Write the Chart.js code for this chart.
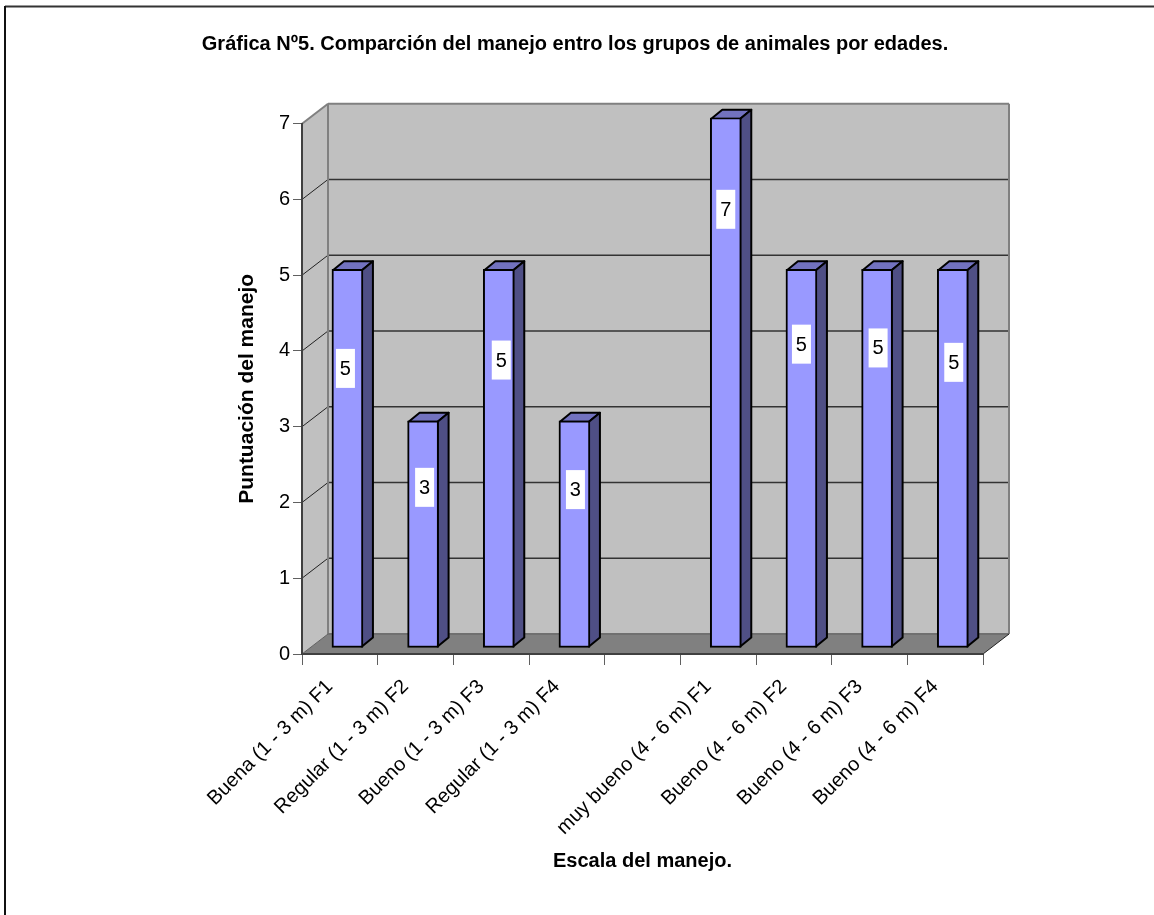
<!DOCTYPE html>
<html>
<head>
<meta charset="utf-8">
<title>Gráfica Nº5</title>
<script src="https://cdn.jsdelivr.net/npm/chart.js@4/dist/chart.umd.min.js"></script>
<style>
    html, body { margin: 0; padding: 0; background: #fff; overflow: hidden; }
    #wrap { position: relative; width: 1154px; height: 915px; }
</style>
</head>
<body>
<div id="wrap"><canvas id="myChart" width="1154" height="915"></canvas></div>
<script>
// Chart data
// =======================================================
var categories = [
    "Buena (1 - 3 m) F1", "Regular (1 - 3 m) F2", "Bueno (1 - 3 m) F3", "Regular (1 - 3 m) F4",
    "",
    "muy bueno (4 - 6 m) F1", "Bueno (4 - 6 m) F2", "Bueno (4 - 6 m) F3", "Bueno (4 - 6 m) F4"
];
var puntuacion = [5, 3, 5, 3, null, 7, 5, 5, 5];
var yTicks = [0, 1, 2, 3, 4, 5, 6, 7];

var chartTitle = "Gráfica Nº5. Comparción del manejo entro los grupos de animales por edades.";
var xTitle = "Escala del manejo.";
var yTitle = "Puntuación del manejo";

// Hand placed value labels: height on the y axis, and sideways nudge in px
var labelLevels = [3.77, 2.20, 3.88, 2.17, null, 5.87, 4.09, 4.04, 3.85];
var labelNudge = [-2, 1.5, 2.5, 1, null, 0, 0, 1, 1];

// 3D look of the old spreadsheet chart
// =======================================================
var wallDepth = { x: 26, y: -20 };
var barShift = { x: 7.6, y: -6 };
var barDepth = { x: 11, y: -9 };
var fontName = "'Liberation Sans', Arial, sans-serif";

function polygon(ctx, pts, fill, stroke, lineWidth) {
    ctx.beginPath();
    ctx.moveTo(pts[0][0], pts[0][1]);
    for (var i = 1; i < pts.length; i++) {
        ctx.lineTo(pts[i][0], pts[i][1]);
    }
    ctx.closePath();
    if (fill) {
        ctx.fillStyle = fill;
        ctx.fill();
    }
    if (stroke) {
        ctx.strokeStyle = stroke;
        ctx.lineWidth = lineWidth;
        ctx.stroke();
    }
}

function line(ctx, x1, y1, x2, y2, color, width) {
    ctx.beginPath();
    ctx.moveTo(x1, y1);
    ctx.lineTo(x2, y2);
    ctx.strokeStyle = color;
    ctx.lineWidth = width;
    ctx.stroke();
}

var walls3d = {
    id: "walls3d",
    // frame, side wall, back wall, floor and grid lines go under everything
    beforeDraw: function (chart) {
        var ctx = chart.ctx;
        var a = chart.chartArea;
        var dx = wallDepth.x;
        var dy = wallDepth.y;
        var yScale = chart.scales.y;

        ctx.save();
        line(ctx, 5, 6.5, 1154, 6.5, "#333333", 2);
        line(ctx, 5, 6, 5, 915, "#111111", 2);

        polygon(ctx, [[a.left + dx, a.top + dy], [a.right + dx, a.top + dy], [a.right + dx, a.bottom + dy], [a.left + dx, a.bottom + dy]], "#c0c0c0");
        polygon(ctx, [[a.left, a.top], [a.left + dx, a.top + dy], [a.left + dx, a.bottom + dy], [a.left, a.bottom]], "#c0c0c0");
        polygon(ctx, [[a.left, a.bottom], [a.left + dx, a.bottom + dy], [a.right + dx, a.bottom + dy], [a.right, a.bottom]], "#808080");

        yScale.ticks.forEach(function (t) {
            if (t.value === 0 || t.value === 7) {
                return;
            }
            var py = yScale.getPixelForValue(t.value);
            line(ctx, a.left, py, a.left + dx, py + dy, "#222222", 1);
            line(ctx, a.left + dx, py + dy, a.right + dx, py + dy, "#333333", 1.5);
        });

        // wall edges
        ctx.lineJoin = "miter";
        line(ctx, a.left, a.top, a.left + dx, a.top + dy, "#808080", 2);
        line(ctx, a.left + dx, a.top + dy, a.right + dx, a.top + dy, "#808080", 2);
        line(ctx, a.left + dx, a.top + dy, a.left + dx, a.bottom + dy, "#808080", 2);
        line(ctx, a.right + dx, a.top + dy, a.right + dx, a.bottom + dy, "#808080", 2);
        line(ctx, a.left + dx, a.bottom + dy, a.right + dx, a.bottom + dy, "#707070", 2);
        line(ctx, a.left, a.bottom, a.left + dx, a.bottom + dy, "#606060", 1);
        line(ctx, a.right, a.bottom, a.right + dx, a.bottom + dy, "#222222", 1);
        ctx.restore();
    },
    // top and side faces of each bar, then the front is pushed into the depth
    beforeDatasetDraw: function (chart, args) {
        var ctx = chart.ctx;
        ctx.save();
        ctx.translate(barShift.x, barShift.y);
        args.meta.data.forEach(function (bar, i) {
            if (puntuacion[i] === null) {
                return;
            }
            var p = bar.getProps(["x", "y", "base", "width"], true);
            var half = p.width / 2 - 1;
            var l = p.x - half;
            var r = p.x + half;
            var t = p.y + 1;
            var b = p.base - 1;
            ctx.lineJoin = "round";
            polygon(ctx, [[l, t], [l + barDepth.x, t + barDepth.y], [r + barDepth.x, t + barDepth.y], [r, t]], "#7272bf", "#000", 2);
            polygon(ctx, [[r, t], [r + barDepth.x, t + barDepth.y], [r + barDepth.x, b + barDepth.y], [r, b]], "#4f4f85", "#000", 2);
        });
        // restored in afterDatasetDraw once the library has drawn the bars
    },
    afterDatasetDraw: function (chart) {
        chart.ctx.restore();
    },
    // value labels on white boxes
    afterDatasetsDraw: function (chart) {
        var ctx = chart.ctx;
        var meta = chart.getDatasetMeta(0);
        ctx.save();
        ctx.font = "20px " + fontName;
        ctx.textAlign = "center";
        ctx.textBaseline = "middle";
        meta.data.forEach(function (bar, i) {
            if (puntuacion[i] === null) {
                return;
            }
            var cx = bar.x + barShift.x + labelNudge[i];
            var cy = chart.scales.y.getPixelForValue(labelLevels[i]);
            ctx.fillStyle = "#ffffff";
            ctx.fillRect(cx - 9.5, cy - 19.5, 19, 39);
            ctx.fillStyle = "#000000";
            ctx.fillText(String(puntuacion[i]), cx, cy + 1);
        });
        ctx.restore();
    }
};

var ctx = document.getElementById("myChart");

var myChart = new Chart(ctx, {
    type: "bar",
    data: {
        labels: categories,
        datasets: [{
            data: puntuacion,
            backgroundColor: "#9999ff",
            borderColor: "#000000",
            borderWidth: 2,
            borderSkipped: false,
            barThickness: 31
        }]
    },
    plugins: [walls3d],
    options: {
        responsive: false,
        animation: false,
        layout: { padding: { right: 4 } },
        plugins: {
            legend: { display: false },
            tooltip: { enabled: false },
            title: {
                display: true,
                text: chartTitle,
                color: "#000000",
                font: { family: fontName, size: 20, weight: "bold", lineHeight: 1.2 },
                padding: { top: 32, bottom: 67.7 }
            }
        },
        scales: {
            x: {
                afterFit: function (scale) { scale.height = 261; },
                grid: { color: "#606060", lineWidth: 1, drawOnChartArea: false, tickLength: 11 },
                border: { color: "#404040", width: 2 },
                ticks: {
                    autoSkip: false,
                    minRotation: 45,
                    maxRotation: 45,
                    padding: 10,
                    labelOffset: -10,
                    color: "#000000",
                    font: { family: fontName, size: 20 }
                },
                title: {
                    display: true,
                    text: xTitle,
                    color: "#000000",
                    font: { family: fontName, size: 20, weight: "bold", lineHeight: 1.2 },
                    padding: { top: 0, bottom: 42 }
                }
            },
            y: {
                min: 0,
                max: 7,
                afterFit: function (scale) { scale.width = 302; },
                afterBuildTicks: function (scale) {
                    scale.ticks = yTicks.map(function (v) { return { value: v }; });
                },
                grid: { color: "#606060", lineWidth: 1, drawOnChartArea: false, tickLength: 9 },
                border: { color: "#404040", width: 2 },
                ticks: {
                    padding: 3,
                    color: "#000000",
                    font: { family: fontName, size: 20 }
                },
                title: {
                    display: true,
                    text: yTitle,
                    color: "#000000",
                    font: { family: fontName, size: 21, weight: "bold", lineHeight: 1.2 },
                    padding: { top: 235, bottom: 0 }
                }
            },
            // empty axis that only keeps the plot clear of the right margin
            spacer: {
                position: "right",
                afterFit: function (scale) { scale.width = 167; },
                grid: { display: false },
                border: { display: false },
                ticks: { display: false }
            }
        }
    }
});
</script>
</body>
</html>
